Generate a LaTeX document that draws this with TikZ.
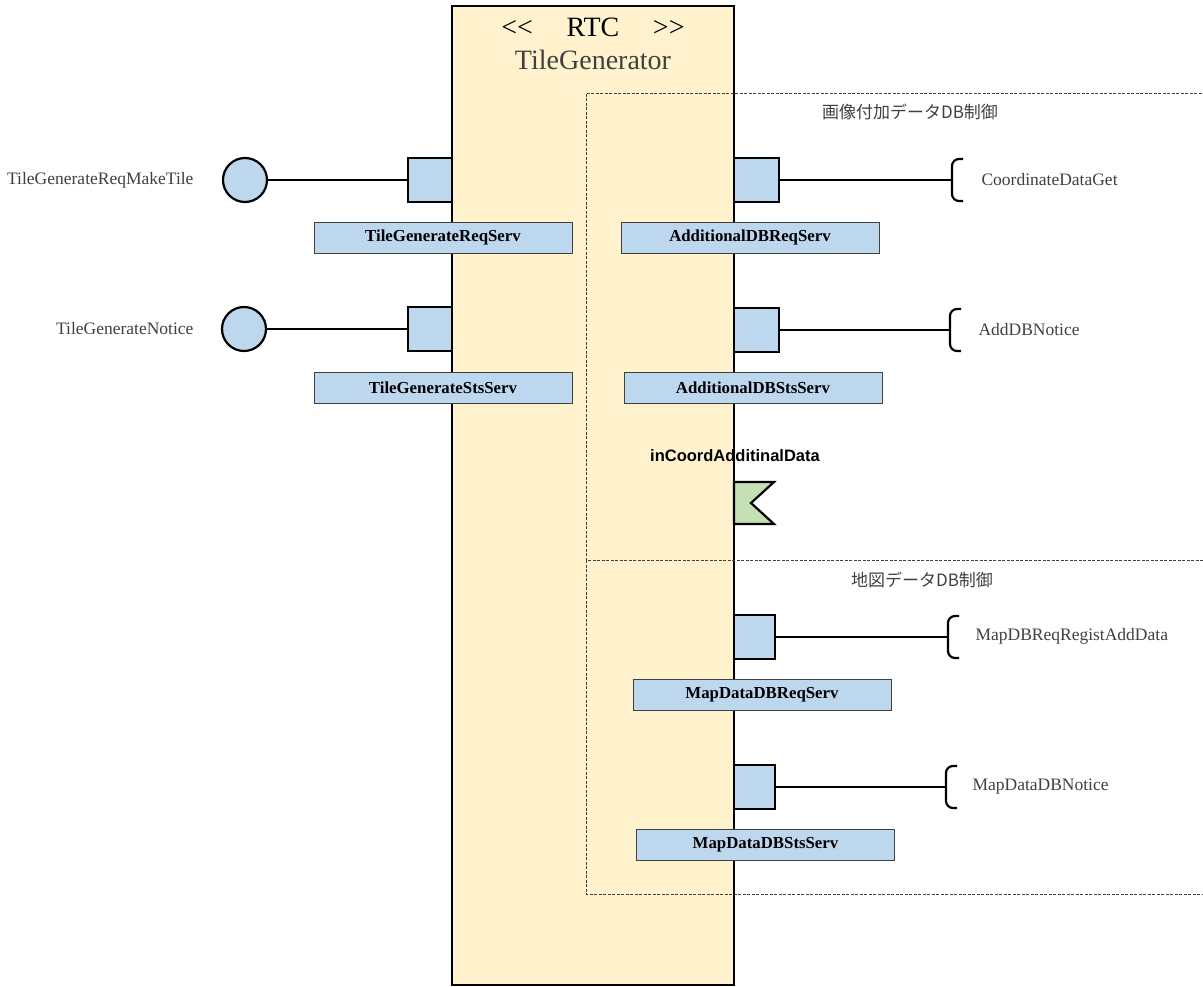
\documentclass[tikz,border=0pt]{standalone}
\usepackage{fontspec}
\setmainfont{Liberation Serif}
\newfontfamily\jpfont{Noto Sans CJK JP}
\newfontfamily\flagfont{Liberation Sans}
\definecolor{compfill}{HTML}{FFF2CC}
\definecolor{portfill}{HTML}{BDD7EE}
\definecolor{flagfill}{HTML}{C5E0B4}
\definecolor{linegray}{HTML}{404040}
\tikzset{
  comp/.style={draw, line width=2.5pt, fill=compfill, inner sep=0pt},
  port/.style={draw, line width=2.2pt, fill=portfill, minimum height=44pt, inner sep=0pt},
  prov/.style={circle, draw, line width=2.2pt, fill=portfill, minimum size=44pt, inner sep=0pt},
  svc/.style={draw=linegray, line width=0.8pt, fill=portfill, minimum width=258pt, minimum height=31pt,
    inner sep=0pt, font=\bfseries\fontsize{16.8}{17}\selectfont},
  ifname/.style={font=\fontsize{17.5}{18}\selectfont, text=linegray},
  grp/.style={dash pattern=on 3pt off 1.5pt, line width=0.8pt, draw=linegray},
  grplabel/.style={font=\jpfont\fontsize{17}{18}\selectfont, text=linegray},
  wire/.style={line width=1.2pt},
  socket/.pic={\draw[line width=2.2pt, rounded corners=7pt] (11,-21) -- (0,-21) -- (0,21) -- (11,21);}
}
\begin{document}
\begin{tikzpicture}[x=1pt, y=-1pt]
  \useasboundingbox (0,0) rectangle (1203,987);

  \node[comp, minimum width=282pt, minimum height=979pt] (comp) at (593,495.5) {};
  \node[font=\fontsize{28}{30}\selectfont] (stereo) at (593,27) {<\kern0pt<\hspace{1.2em}RTC\hspace{1.2em}>\kern0pt>};
  \node[font=\fontsize{28}{30}\selectfont, text=linegray] (cname) at (593,60) {TileGenerator};

  \draw[grp] (1215,93) -- (586,93) -- (586,560) -- (1215,560);
  \draw[grp] (586,560) -- (586,894) -- (1215,894);
  \node[grplabel] (g1) at (910,112) {画像付加データDB制御};
  \node[grplabel] (g2) at (922,580) {地図データDB制御};

  \node[port, minimum width=44pt] (p1) at (430,180) {};
  \node[port, minimum width=44pt] (p2) at (430,329) {};
  \node[prov] (c1) at (245,180) {};
  \node[prov] (c2) at (244,329) {};
  \draw[wire] (c1) -- (p1);
  \draw[wire] (c2) -- (p2);
  \node[ifname, anchor=east] (n1) at (197,180) {TileGenerateReqMakeTile};
  \node[ifname, anchor=east] (n2) at (197,329) {TileGenerateNotice};
  \node[svc] (v1) at (443,237.5) {TileGenerateReqServ};
  \node[svc] (v2) at (443,387.5) {TileGenerateStsServ};

  \node[port, minimum width=45pt] (p3) at (756.5,180) {};
  \node[port, minimum width=45pt] (p4) at (756.5,330) {};
  \node[port, minimum width=41pt] (p5) at (754.5,637) {};
  \node[port, minimum width=41pt] (p6) at (754.5,787) {};
  \coordinate (s3) at (952,180);
  \coordinate (s4) at (950,330);
  \coordinate (s5) at (948,637);
  \coordinate (s6) at (946,787);
  \pic at (s3) {socket};
  \pic at (s4) {socket};
  \pic at (s5) {socket};
  \pic at (s6) {socket};
  \draw[wire] (p3) -- (s3);
  \draw[wire] (p4) -- (s4);
  \draw[wire] (p5) -- (s5);
  \draw[wire] (p6) -- (s6);
  \node[ifname, anchor=west] (n3) at (978,180) {CoordinateDataGet};
  \node[ifname, anchor=west] (n4) at (975,330) {AddDBNotice};
  \node[ifname, anchor=west] (n5) at (972,636) {MapDBReqRegistAddData};
  \node[ifname, anchor=west] (n6) at (969,787) {MapDataDBNotice};
  \node[svc] (v3) at (750,237.5) {AdditionalDBReqServ};
  \node[svc] (v4) at (753,387.5) {AdditionalDBStsServ};
  \node[svc] (v5) at (762,694.5) {MapDataDBReqServ};
  \node[svc] (v6) at (765.5,844.5) {MapDataDBStsServ};

  \draw[line width=2.2pt, fill=flagfill, line join=miter] (734,482) -- (774,482) -- (751,503) -- (774,524) -- (734,524) -- cycle;
  \node[font=\flagfont\bfseries\fontsize{16.5}{17}\selectfont] (flag) at (735,456) {inCoordAdditinalData};
\end{tikzpicture}
\end{document}
